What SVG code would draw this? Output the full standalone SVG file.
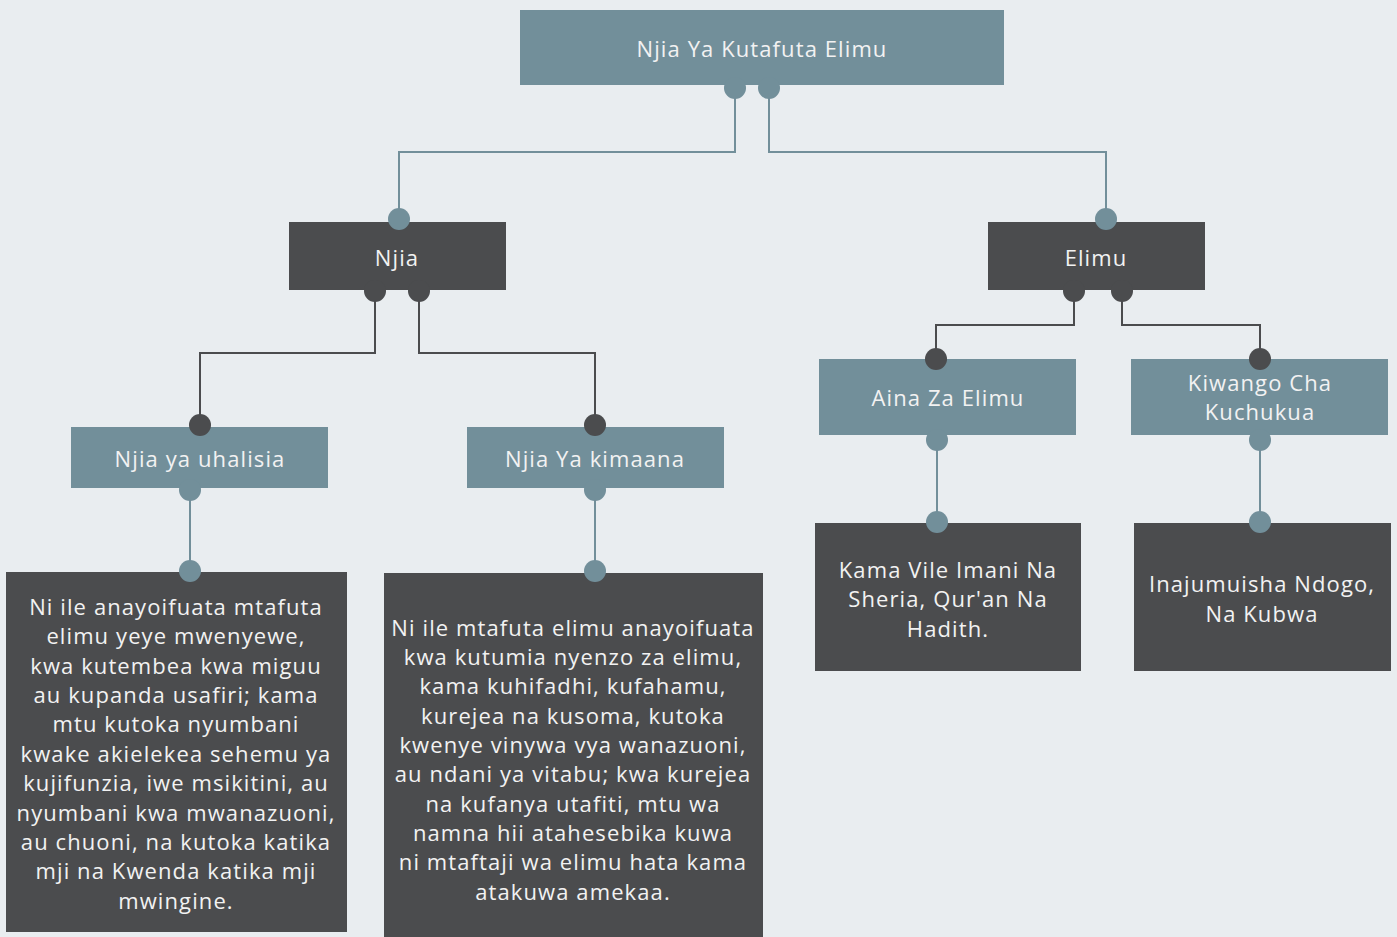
<svg xmlns="http://www.w3.org/2000/svg" width="1397" height="937" viewBox="0 0 1397 937">
<style>
.bg{fill:#e9edf0}
.blue{fill:#728f9a}
.dark{fill:#4b4c4e}
text{font-family:"Open Sans","Lato","Liberation Sans",sans-serif;font-size:22px;letter-spacing:1.1px;fill:#f2f2f2;text-anchor:middle}
.lb{fill:none;stroke:#728f9a;stroke-width:2}
.ld{fill:none;stroke:#4b4c4e;stroke-width:2}
.db{fill:#728f9a}
.dd{fill:#4b4c4e}
</style>
<rect class="bg" x="0" y="0" width="1397" height="937"/>
<g id="root"><rect class="blue" x="520" y="10" width="484" height="75"/><text x="762" y="57">Njia Ya Kutafuta Elimu</text></g>
<g id="njia"><rect class="dark" x="289" y="222" width="217" height="68"/><text x="397" y="266">Njia</text></g>
<g id="elimu"><rect class="dark" x="988" y="222" width="217" height="68"/><text x="1096" y="266">Elimu</text></g>
<g id="uhalisia"><rect class="blue" x="71" y="427" width="257" height="61"/><text x="200" y="467">Njia ya uhalisia</text></g>
<g id="kimaana"><rect class="blue" x="467" y="427" width="257" height="61"/><text x="595" y="467">Njia Ya kimaana</text></g>
<g id="aina"><rect class="blue" x="819" y="359" width="257" height="76"/><text x="948" y="406">Aina Za Elimu</text></g>
<g id="kiwango"><rect class="blue" x="1131" y="359" width="257" height="76"/><text x="1260" y="391">Kiwango Cha</text><text x="1260" y="420">Kuchukua</text></g>
<g id="uhalisia-desc"><rect class="dark" x="6" y="572" width="341" height="360"/>
<text x="176" y="615">Ni ile anayoifuata mtafuta</text>
<text x="176" y="644">elimu yeye mwenyewe,</text>
<text x="176" y="674">kwa kutembea kwa miguu</text>
<text x="176" y="703">au kupanda usafiri; kama</text>
<text x="176" y="732">mtu kutoka nyumbani</text>
<text x="176" y="762">kwake akielekea sehemu ya</text>
<text x="176" y="791">kujifunzia, iwe msikitini, au</text>
<text x="176" y="821">nyumbani kwa mwanazuoni,</text>
<text x="176" y="850">au chuoni, na kutoka katika</text>
<text x="176" y="879">mji na Kwenda katika mji</text>
<text x="176" y="909">mwingine.</text>
</g>
<g id="kimaana-desc"><rect class="dark" x="384" y="573" width="379" height="364"/>
<text x="573" y="636">Ni ile mtafuta elimu anayoifuata</text>
<text x="573" y="665">kwa kutumia nyenzo za elimu,</text>
<text x="573" y="694">kama kuhifadhi, kufahamu,</text>
<text x="573" y="724">kurejea na kusoma, kutoka</text>
<text x="573" y="753">kwenye vinywa vya wanazuoni,</text>
<text x="573" y="782">au ndani ya vitabu; kwa kurejea</text>
<text x="573" y="812">na kufanya utafiti, mtu wa</text>
<text x="573" y="841">namna hii atahesebika kuwa</text>
<text x="573" y="870">ni mtaftaji wa elimu hata kama</text>
<text x="573" y="900">atakuwa amekaa.</text>
</g>
<g id="aina-desc"><rect class="dark" x="815" y="523" width="266" height="148"/>
<text x="948" y="578">Kama Vile Imani Na</text>
<text x="948" y="607">Sheria, Qur'an Na</text>
<text x="948" y="637">Hadith.</text>
</g>
<g id="kiwango-desc"><rect class="dark" x="1134" y="523" width="257" height="148"/>
<text x="1262" y="592">Inajumuisha Ndogo,</text>
<text x="1262" y="622">Na Kubwa</text>
</g>
<g id="connectors">
<path class="lb" d="M735 88V152H399V219"/>
<path class="lb" d="M769 88V152H1106V219"/>
<path class="ld" d="M375 291V353H200V425"/>
<path class="ld" d="M419 291V353H595V425"/>
<path class="ld" d="M1074 291V325H936V359"/>
<path class="ld" d="M1122 291V325H1260V359"/>
<path class="lb" d="M190 490V571"/>
<path class="lb" d="M595 490V571"/>
<path class="lb" d="M937 440V521"/>
<path class="lb" d="M1260 440V521"/>
<circle class="db" cx="735" cy="88" r="11"/><circle class="db" cx="769" cy="88" r="11"/>
<circle class="db" cx="399" cy="219" r="11"/><circle class="db" cx="1106" cy="219" r="11"/>
<circle class="dd" cx="375" cy="291" r="11"/><circle class="dd" cx="419" cy="291" r="11"/>
<circle class="dd" cx="200" cy="425" r="11"/><circle class="dd" cx="595" cy="425" r="11"/>
<circle class="dd" cx="1074" cy="291" r="11"/><circle class="dd" cx="1122" cy="291" r="11"/>
<circle class="dd" cx="936" cy="359" r="11"/><circle class="dd" cx="1260" cy="359" r="11"/>
<circle class="db" cx="190" cy="490" r="11"/><circle class="db" cx="595" cy="490" r="11"/>
<circle class="db" cx="937" cy="440" r="11"/><circle class="db" cx="1260" cy="440" r="11"/>
<circle class="db" cx="190" cy="571" r="11"/><circle class="db" cx="595" cy="571" r="11"/>
<circle class="db" cx="937" cy="522" r="11"/><circle class="db" cx="1260" cy="522" r="11"/>
</g>
</svg>
